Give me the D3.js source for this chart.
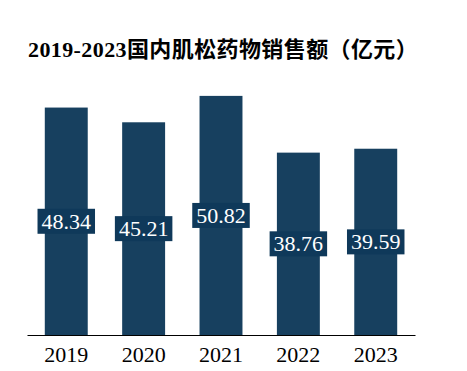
<!DOCTYPE html>
<html lang="zh">
<head>
<meta charset="utf-8">
<style>
  body { margin: 0; background: #fff; }
  svg { display: block; background: #fff; }
  .bar { fill: #17405f; }
  .lbl-box { fill: #0f395a; }
</style>
</head>
<body>
<div id="chart"></div>
<script src="https://cdn.jsdelivr.net/npm/d3@7/dist/d3.min.js"></script>
<script>
var years = ["2019", "2020", "2021", "2022", "2023"];
var sales = [48.34, 45.21, 50.82, 38.76, 39.59];
var titleText = "2019-2023国内肌松药物销售额（亿元）";

var width = 467, height = 371;
var baseY = 335;
var serif = "'Liberation Serif', 'Times New Roman', serif";

var svg = d3.select("#chart")
    .append("svg")
    .attr("width", width)
    .attr("height", height);

svg.append("text")
    .attr("x", 28)
    .attr("y", 57)
    .style("font-family", serif + ", 'Noto Sans CJK SC'")
    .style("font-size", "22px")
    .style("font-weight", "bold")
    .style("letter-spacing", "0.4px")
    .text(titleText);

var x = d3.scaleBand()
    .domain(years)
    .range([27, 415])
    .paddingInner(0.445)
    .paddingOuter(0.23);

var y = d3.scaleLinear()
    .domain([0, 55])
    .range([baseY, baseY - 55 * 4.705]);

svg.selectAll(".bar")
    .data(sales)
    .enter().append("rect")
    .attr("class", "bar")
    .attr("x", function(d, i) { return x(years[i]); })
    .attr("y", function(d) { return y(d); })
    .attr("width", x.bandwidth())
    .attr("height", function(d) { return baseY - y(d); });

// value labels on dark boxes, centred in each bar
var labels = svg.selectAll(".lblg")
    .data(sales)
    .enter().append("g")
    .attr("transform", function(d, i) {
        return "translate(" + (x(years[i]) + x.bandwidth() / 2) + "," + ((y(d) + baseY) / 2) + ")";
    });

labels.append("text")
    .attr("text-anchor", "middle")
    .attr("dy", "0.33em")
    .style("font-family", serif)
    .style("font-size", "22px")
    .style("fill", "#fff")
    .text(function(d) { return d.toFixed(2); });

labels.each(function() {
    var g = d3.select(this);
    var bb = g.select("text").node().getBBox();
    g.insert("rect", "text")
        .attr("class", "lbl-box")
        .attr("x", bb.x - 4)
        .attr("y", -12.5)
        .attr("width", bb.width + 8)
        .attr("height", 25);
});

var axis = svg.append("g")
    .attr("transform", "translate(0," + baseY + ")")
    .call(d3.axisBottom(x).tickSize(0).tickPadding(11));

axis.selectAll("text")
    .style("font-family", serif)
    .style("font-size", "22px")
    .style("fill", "#000");

axis.select(".domain")
    .attr("stroke", "#000")
    .attr("stroke-width", 1.2);
</script>
</body>
</html>
